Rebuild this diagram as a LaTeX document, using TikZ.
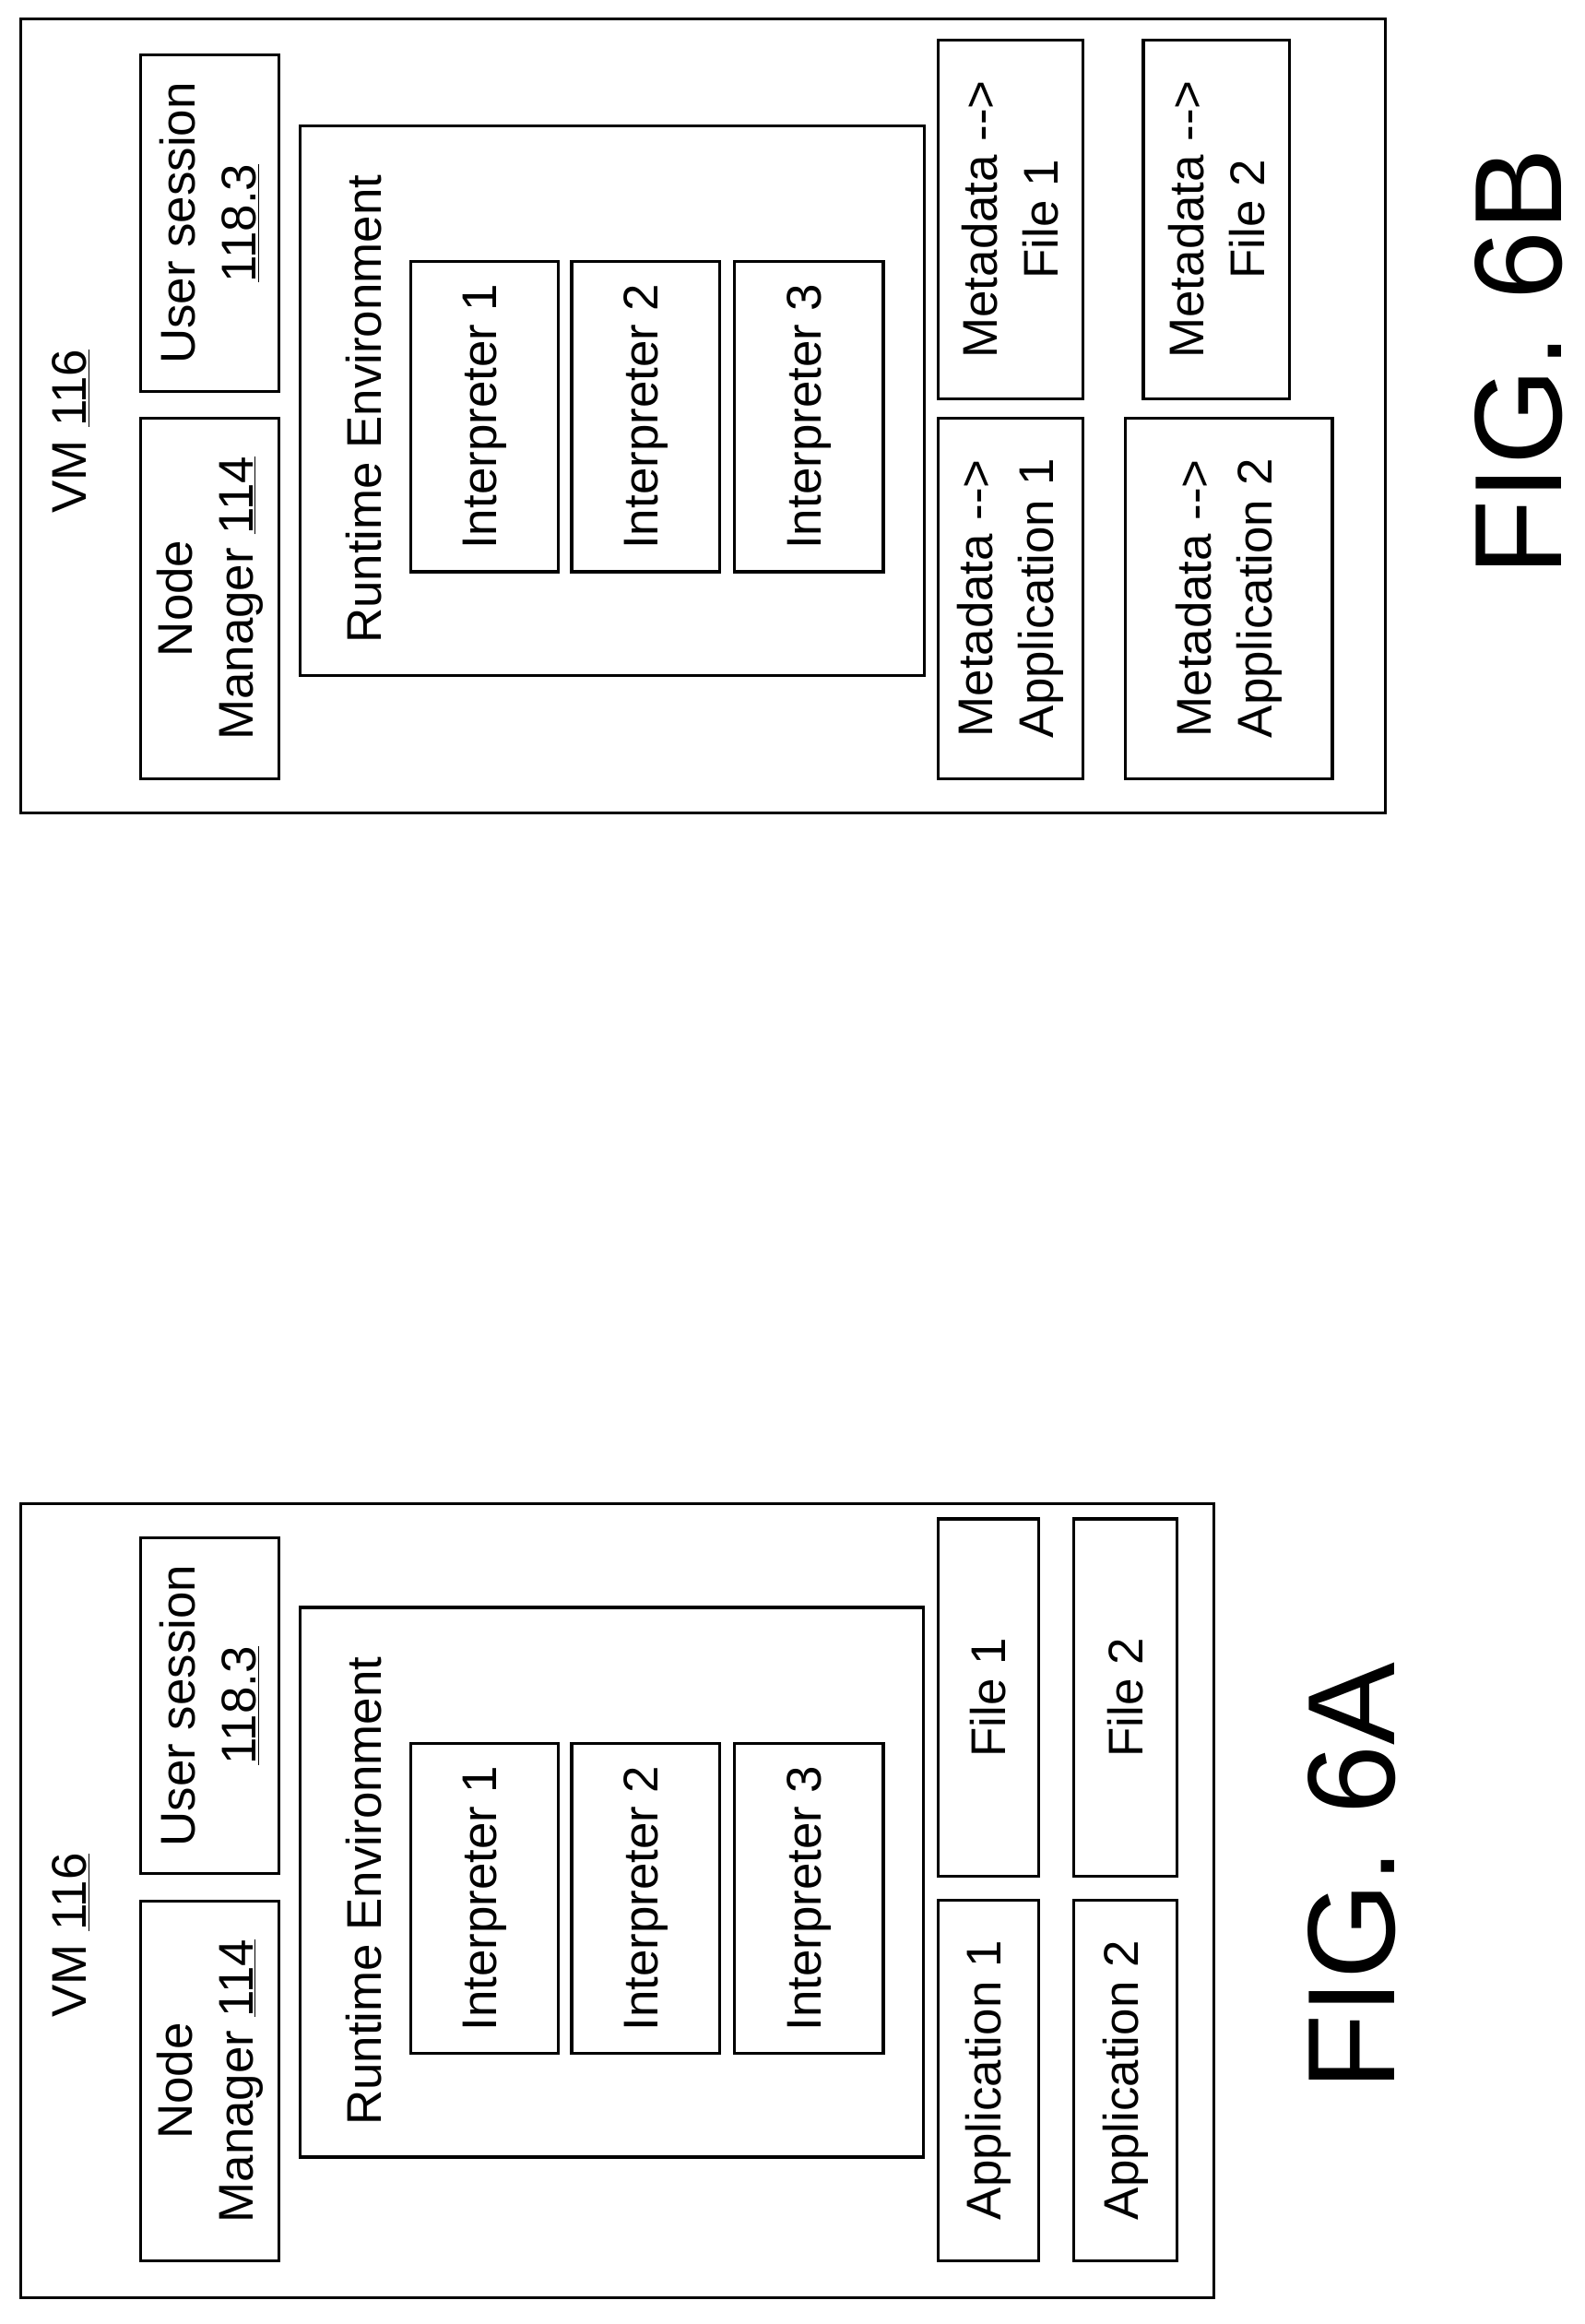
\documentclass[tikz,border=0pt]{standalone}
\usepackage{fontspec}
\setmainfont{Liberation Sans}[Ligatures=NoCommon]
\newcommand{\mybx}[6]{%
  \pgfmathsetmacro{\cx}{(#2+#4)/2}\pgfmathsetmacro{\cy}{-(#3+#5)/2}%
  \pgfmathsetmacro{\ww}{#5-#3}\pgfmathsetmacro{\hh}{#4-#2}%
  \node[bx,minimum width=\ww pt,minimum height=\hh pt] (#1) at (\cx,\cy) {#6};}
\newcommand{\arr}{{-}{-}>}
\begin{document}
\begin{tikzpicture}[x=1pt,y=1pt,
  bx/.style={draw,line width=2pt,rotate=90,align=center,inner sep=0pt,font=\fontsize{33}{41}\selectfont},
  lbl/.style={rotate=90,align=center,inner sep=0pt,font=\fontsize{33}{41}\selectfont},
  fig/.style={rotate=90,inner sep=0pt,font=\fontsize{84}{90}\selectfont}]
\useasboundingbox (0,0) rectangle (1073,-1573);
% ---------- FIG 6A ----------
\mybx{vmA}{14}{1018}{822}{1555}{}
\node[lbl] (vmAl) at (48,-1310) {VM \underline{116}};
\mybx{nmA}{95}{1287}{189}{1530}{Node\\Manager \underline{114}}
\mybx{usA}{95}{1041}{189}{1268}{User session\\\underline{118.3}}
\mybx{reA}{203}{1088}{625}{1460}{}
\node[lbl] (reAl) at (246,-1280) {Runtime Environment};
\mybx{i1A}{278}{1180}{378}{1390}{Interpreter 1}
\mybx{i2A}{387}{1180}{487}{1390}{Interpreter 2}
\mybx{i3A}{497}{1180}{598}{1390}{Interpreter 3}
\mybx{a1A}{635}{1286}{703}{1530}{Application 1}
\mybx{f1A}{635}{1028}{703}{1270}{File 1}
\mybx{a2A}{727}{1286}{797}{1530}{Application 2}
\mybx{f2A}{727}{1028}{797}{1270}{File 2}
\node[fig] (figA) at (915,-1270) {FIG. 6A};
% ---------- FIG 6B ----------
\mybx{vmB}{14}{13}{938}{550}{}
\node[lbl] (vmBl) at (48,-292) {VM \underline{116}};
\mybx{nmB}{95}{283}{189}{527}{Node\\Manager \underline{114}}
\mybx{usB}{95}{37}{189}{265}{User session\\\underline{118.3}}
\mybx{reB}{203}{85}{626}{457}{}
\node[lbl] (reBl) at (246,-277) {Runtime Environment};
\mybx{i1B}{278}{177}{378}{387}{Interpreter 1}
\mybx{i2B}{387}{177}{487}{387}{Interpreter 2}
\mybx{i3B}{497}{177}{598}{387}{Interpreter 3}
\mybx{a1B}{635}{283}{733}{527}{Metadata \arr\\Application 1}
\mybx{f1B}{635}{27}{733}{270}{Metadata \arr\\File 1}
\mybx{a2B}{762}{283}{902}{527}{Metadata \arr\\Application 2}
\mybx{f2B}{774}{27}{873}{270}{Metadata \arr\\File 2}
\node[fig] (figB) at (1028,-245) {FIG. 6B};
\end{tikzpicture}
\end{document}
